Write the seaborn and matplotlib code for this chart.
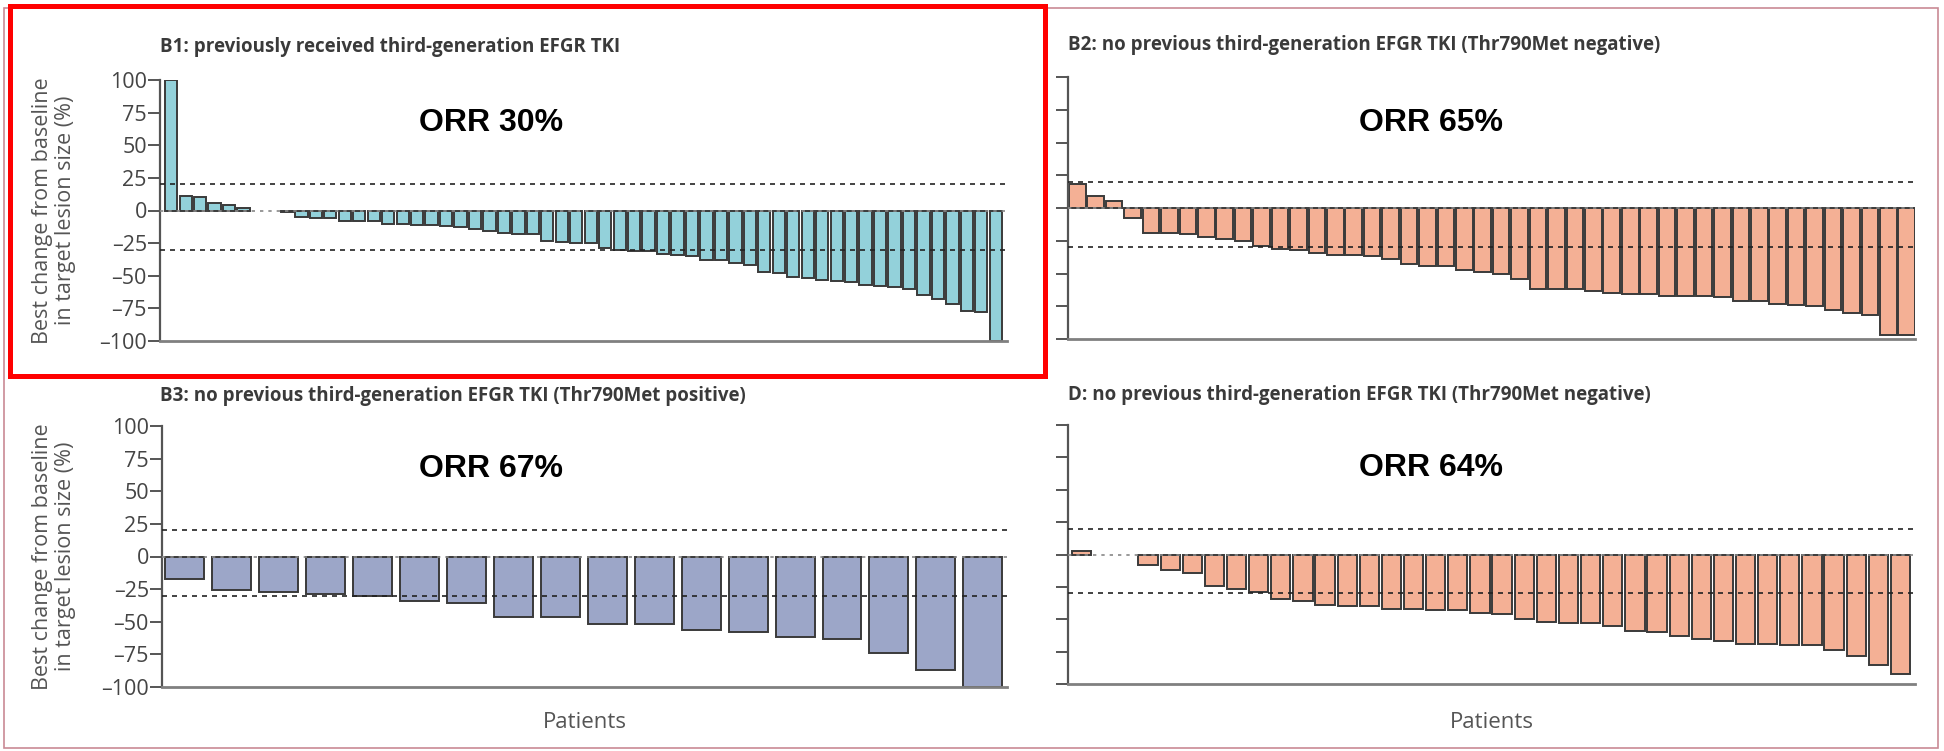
import matplotlib
matplotlib.use("Agg")
import matplotlib.pyplot as plt
import seaborn as sns
import pandas as pd
from matplotlib.patches import Rectangle

# ---------------- data ----------------
b1_values = [100, 11, 10, 6, 4, 2, 0, 0, -1, -5, -6, -6, -8, -8, -8, -10, -10, -11, -11,
             -12, -13, -14, -16, -17, -18, -18, -23, -24, -25, -25, -29, -30, -31, -31,
             -33, -34, -35, -38, -38, -40, -42, -47, -48, -51, -52, -53, -54, -55, -57,
             -58, -59, -60, -65, -68, -72, -77, -78, -100]
b2_values = [18, 9, 5, -8, -19, -19, -20, -22, -24, -25, -29, -31, -32, -34, -36, -36,
             -37, -39, -43, -44, -44, -47, -49, -50, -54, -62, -62, -62, -63, -65, -66,
             -66, -67, -67, -67, -68, -71, -71, -73, -74, -75, -78, -80, -82, -97, -97]
b3_values = [-17, -26, -27, -29, -30, -34, -36, -46, -46, -52, -52, -56, -58, -62, -63,
             -74, -87, -100]
d_values = [3, 0, 0, -8, -12, -14, -24, -27, -29, -34, -36, -39, -40, -40, -42, -42,
            -43, -43, -45, -46, -50, -52, -53, -53, -55, -59, -60, -63, -65, -67, -69,
            -69, -70, -70, -74, -78, -85, -92]

panel_titles = [
    "B1: previously received third-generation EFGR TKI",
    "B2: no previous third-generation EFGR TKI (Thr790Met negative)",
    "B3: no previous third-generation EFGR TKI (Thr790Met positive)",
    "D: no previous third-generation EFGR TKI (Thr790Met negative)",
]
orr_labels = ["ORR 30%", "ORR 65%", "ORR 67%", "ORR 64%"]
y_ticks = [100, 75, 50, 25, 0, -25, -50, -75, -100]
y_label = "Best change from baseline\nin target lesion size (%)"
x_label = "Patients"
threshold_lines = [20, -30]

# ---------------- style ----------------
sns.set_theme(style="white")
plt.rcParams['font.family'] = ['Open Sans', 'DejaVu Sans']

W, H = 1944, 751
fig = plt.figure(figsize=(W / 100, H / 100), dpi=100)


def px_axes(l, t, r, b):
    return fig.add_axes([l / W, 1 - b / H, (r - l) / W, (b - t) / H])


panels = [
    dict(vals=b1_values, color="#93d1da", box=(160, 80, 1007, 341), bw=0.85, ml=0.35, mr=0.35,
         ylabels=True, xlabel=False, title_xy=(160, 47), orr_xy=(491, 123)),
    dict(vals=b2_values, color="#f4b095", box=(1068, 77, 1915, 339), bw=0.9, ml=0.05, mr=0.0,
         ylabels=False, xlabel=False, title_xy=(1068, 45), orr_xy=(1431, 123)),
    dict(vals=b3_values, color="#9ca6c8", box=(162, 426, 1007, 687), bw=0.83, ml=0.07, mr=0.1,
         ylabels=True, xlabel=True, title_xy=(160, 396), orr_xy=(491, 469)),
    dict(vals=d_values, color="#f4b095", box=(1068, 425, 1915, 684), bw=0.87, ml=0.18, mr=0.22,
         ylabels=False, xlabel=True, title_xy=(1068, 395), orr_xy=(1431, 468)),
]

for i, p in enumerate(panels):
    ax = px_axes(*p["box"])
    vals = p["vals"]
    n = len(vals)
    df = pd.DataFrame({"patient": list(range(n)), "change": vals})
    sns.barplot(data=df, x="patient", y="change", ax=ax, color=p["color"],
                edgecolor="#3a3a3a", linewidth=1.4, width=p["bw"], saturation=1,
                errorbar=None, zorder=2)
    for patch in ax.patches:
        if patch.get_height() == 0:
            patch.set_edgecolor("none")
    ax.set_xlim(-p["bw"] / 2 - p["ml"], n - 1 + p["bw"] / 2 + p["mr"])
    ax.set_ylim(-100, 100)
    ax.set_yticks(y_ticks)
    if p["ylabels"]:
        ax.set_yticklabels([str(t) if t >= 0 else "\u2013" + str(-t) for t in y_ticks],
                           fontsize=15.5, color="#444444")
    else:
        ax.set_yticklabels([])
    ax.set_xticks([])
    ax.set_xlabel("")
    ax.set_ylabel("")
    ax.tick_params(axis="y", direction="out", length=8.5, width=1.4, color="#555555",
                   pad=1, left=True)
    for s in ["top", "right"]:
        ax.spines[s].set_visible(False)
    ax.spines["left"].set_color("#555555")
    ax.spines["left"].set_linewidth(1.6)
    ax.spines["bottom"].set_color("#808080")
    ax.spines["bottom"].set_linewidth(2.0)
    for y in threshold_lines:
        ax.axhline(y, color="#222222", lw=1.2, ls=(0, (3, 3)), zorder=4)
    ax.axhline(0, color="#888888", lw=1.2, ls=(0, (2, 3)), zorder=4)
    ax.patch.set_alpha(0)

    tx, ty = p["title_xy"]
    fig.text(tx / W, 1 - ty / H, panel_titles[i], ha="left", va="center",
             fontsize=13.5, fontweight="bold", color="#3a3a3a")
    ox, oy = p["orr_xy"]
    fig.text(ox / W, 1 - oy / H, orr_labels[i], ha="center", va="center",
             fontsize=23, fontweight="bold", color="black",
             family=["Liberation Sans", "DejaVu Sans"])
    if p["ylabels"]:
        l, t, r, b = p["box"]
        fig.text(54 / W, 1 - ((t + b) / 2) / H, y_label, rotation=90, ha="center",
                 va="center", fontsize=15.5, color="#555555", linespacing=1.1)
    if p["xlabel"]:
        l, t, r, b = p["box"]
        fig.text(((l + r) / 2) / W, 1 - 723 / H, x_label, ha="center", va="center",
                 fontsize=16, color="#555555")

# outer thin border and red highlight box
fig.add_artist(Rectangle((4 / W, 1 - 748 / H), 1934 / W, 740 / H, transform=fig.transFigure,
                         fill=False, ec="#c98a95", lw=1.2))
fig.add_artist(Rectangle((10 / W, 1 - 376 / H), 1035 / W, 370 / H, transform=fig.transFigure,
                         fill=False, ec="#ff0000", lw=3.6))

fig.savefig("out.png", dpi=100, facecolor="white")
